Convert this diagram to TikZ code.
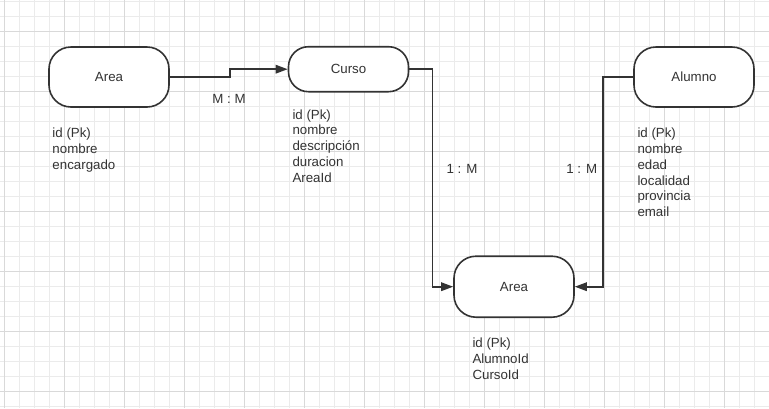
\documentclass[tikz,border=0pt]{standalone}
\usepackage{fontspec}
\setmainfont{Liberation Sans}
\usetikzlibrary{arrows.meta}
\definecolor{ink}{HTML}{333333}
\definecolor{gridminor}{HTML}{EBEBEB}
\definecolor{gridmajor}{HTML}{D9D9D9}
\begin{document}
\begin{tikzpicture}[x=1bp,y=-1bp,
  txt/.style={font=\fontsize{13.3bp}{15.8bp}\selectfont, text=ink},
  term/.style={txt, draw=ink, line width=1.6bp, fill=white, inner sep=0pt,
    minimum width=120bp, rounded corners=22bp},
  conn/.style={draw=ink, line width=1.6bp, -{Triangle[length=12bp,width=8.5bp]}},
  attr/.style={txt, anchor=base west, align=left, inner sep=0pt},
  lbl/.style={txt, inner sep=0pt}]
\useasboundingbox (0,0) rectangle (769,408);
\fill[white] (0,0) rectangle (769,408);
% grid
\foreach \i in {0,...,51} {\draw[gridminor, line width=0.8bp] ({4.3+15*\i},0) -- ({4.3+15*\i},408);}
\foreach \j in {0,...,27} {\draw[gridminor, line width=0.8bp] (0,{1.7+15*\j}) -- (769,{1.7+15*\j});}
\foreach \i in {0,...,12} {\draw[gridmajor, line width=0.8bp] ({4.3+60*\i},0) -- ({4.3+60*\i},408);}
\foreach \j in {0,...,6} {\draw[gridmajor, line width=0.8bp] (0,{31.7+60*\j}) -- (769,{31.7+60*\j});}
% entities
\node[term, minimum height=60bp] (area) at (109,77) {Area};
\node[term, minimum height=45bp, rounded corners=20bp] (curso) at (348.5,69.2) {Curso};
\node[term, minimum height=60bp] (alumno) at (694,77) {Alumno};
\node[term, minimum height=61bp] (rel) at (514,286.7) {Area};
% attributes (anchored at the baseline of the last line)
\node[attr] (areaattr) at (52.3,169.3) {id (Pk)\\nombre\\encargado};
\node[attr] (cursoattr) at (292.3,182.2) {id (Pk)\\nombre\\descripción\\duracion\\AreaId};
\node[attr] (alumnoattr) at (637.3,216.7) {id (Pk)\\nombre\\edad\\localidad\\provincia\\email};
\node[attr] (relattr) at (472.3,379.3) {id (Pk)\\AlumnoId\\CursoId};
% connectors
\draw[conn] (area.east) -- ++(60,0) |- (curso.west);
\draw[conn] (curso.east) -- ++(23,0) |- (rel.west);
\draw[conn] (alumno.west) -- ++(-30,0) |- (rel.east);
% labels
\node[lbl] (mm) at (229,98.5) {M : M};
\node[lbl] (om1) at (462,169.3) {1 : M};
\node[lbl] (om2) at (581.7,169.3) {1 : M};
\end{tikzpicture}
\end{document}
